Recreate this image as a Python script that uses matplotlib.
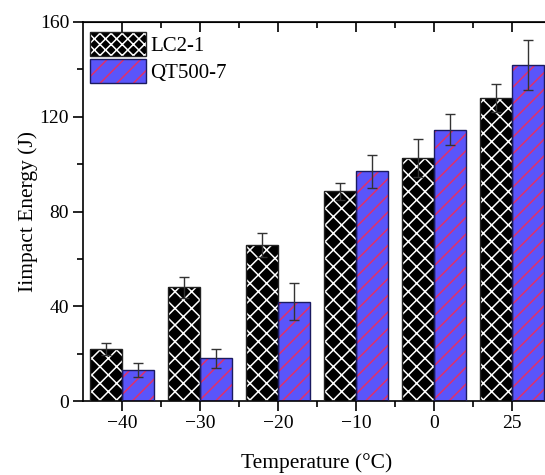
import matplotlib
matplotlib.use("Agg")
import matplotlib.pyplot as plt
from matplotlib.patches import Patch
from matplotlib.legend_handler import HandlerTuple
import numpy as np

# impact energy of the two cast irons vs. test temperature
temps = ["\u221240", "\u221230", "\u221220", "\u221210", "0", "25"]
lc_vals = [22, 48, 66, 88.5, 102.5, 128]
lc_err = [2.5, 4.5, 5, 3.5, 8, 6]
qt_vals = [13, 18, 42, 97, 114.5, 142]
qt_err = [3, 4, 8, 7, 6.5, 10.5]

plt.rcParams['font.family'] = ['Liberation Serif', 'DejaVu Serif']
plt.rcParams['hatch.linewidth'] = 1.1

fig = plt.figure(figsize=(5.45, 4.75), dpi=100)
ax = fig.add_axes([83 / 545, 74 / 475, 468 / 545, 379 / 475])

x = np.arange(len(temps))
w = 0.41
blue = '#5a55fa'
red = '#e0306a'

# hatch colour comes from edgecolor, so draw fill+hatch first, outline after
ax.bar(x - w / 2, lc_vals, w, color='black', edgecolor='white', hatch='xx', lw=0, zorder=2)
ax.bar(x + w / 2, qt_vals, w, color=blue, edgecolor=red, hatch='//', lw=0, zorder=2)
ax.bar(x - w / 2, lc_vals, w, fill=False, edgecolor='#222222', lw=1, zorder=3)
ax.bar(x + w / 2, qt_vals, w, fill=False, edgecolor='#1a1a60', lw=1, zorder=3)

ax.errorbar(x - w / 2, lc_vals, yerr=lc_err, fmt='none', ecolor='#333333', elinewidth=1, capsize=3.6, capthick=1, zorder=4)
ax.errorbar(x + w / 2, qt_vals, yerr=qt_err, fmt='none', ecolor='#333333', elinewidth=1, capsize=3.6, capthick=1, zorder=4)

ax.set_xlim(-0.5, 5.5)
ax.set_ylim(0, 160)
ax.set_xticks(x)
ax.set_xticklabels(temps)
ax.set_xticks(x[:-1] + 0.5, minor=True)
ax.set_yticks([0, 40, 80, 120, 160])
ax.set_yticks([20, 60, 100, 140], minor=True)

ax.spines['right'].set_visible(False)
ax.tick_params(axis='both', which='major', labelsize=14, length=7, width=1.2, direction='out', pad=3)
ax.tick_params(axis='both', which='minor', length=4, width=1.2, direction='out')

# top ticks point inward
ax2 = ax.secondary_xaxis('top')
ax2.set_xticks(x)
ax2.set_xticks(x[:-1] + 0.5, minor=True)
ax2.set_xticklabels([])
ax2.tick_params(which='major', direction='in', length=7, width=1.2)
ax2.tick_params(which='minor', direction='in', length=4, width=1.2)
for s in ax.spines.values():
    s.set_linewidth(1.2)

ax.set_xlabel("Temperature (\u00b0C)", fontsize=15.5, labelpad=15)
ax.set_ylabel("Iimpact Energy (J)", fontsize=15.5, labelpad=1.5)

h_lc = (Patch(facecolor='black', edgecolor='white', hatch='xxx', lw=0),
        Patch(fill=False, edgecolor='#222222', lw=1))
h_qt = (Patch(facecolor=blue, edgecolor=red, hatch='//', lw=0),
        Patch(fill=False, edgecolor='#1a1a60', lw=1))
leg = ax.legend([h_lc, h_qt], ["LC2-1", "QT500-7"], handler_map={tuple: HandlerTuple(ndivide=1)},
                loc='upper left', bbox_to_anchor=(7 / 468, 1 - 10 / 379),
                fontsize=15, frameon=False, handlelength=2.7, handleheight=1.4,
                handletextpad=0.2, labelspacing=0.15, borderaxespad=0, borderpad=0)

fig.savefig("out.png", dpi=100)
